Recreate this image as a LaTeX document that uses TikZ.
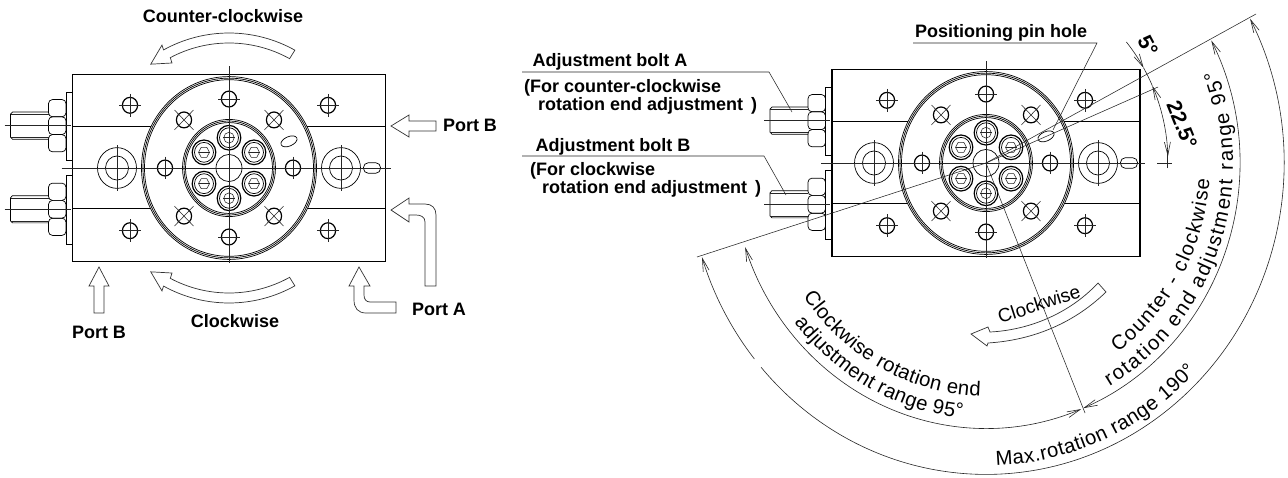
\documentclass[tikz,border=0pt]{standalone}
\usepackage{fontspec}
\setmainfont{Liberation Sans}
\usetikzlibrary{arrows.meta,decorations.text}
\tikzset{
  thin line/.style={line width=0.7pt,black},
  outl/.style={line width=1.2pt,black},
  hairl/.style={line width=0.55pt,black!85},
  blab/.style={font=\fontsize{18}{20}\selectfont\bfseries,inner sep=0pt,anchor=base},
  blabl/.style={blab,anchor=base west},
  dlab/.style={font=\fontsize{21}{22}\selectfont\bfseries,inner sep=0pt,anchor=center},
  rlab/.style={font=\fontsize{19}{20}\selectfont,inner sep=0pt},
  dimarc/.style={line width=0.6pt,black!85,>={Straight Barb[length=13pt,width=6pt]}},
  portarrow/.style={line width=0.7pt,black!80,fill=white},
  curved/.style={decorate,decoration={text along path,text align={fit to path},text={|\crfont|#1}}},
}
\newcommand\crfont{\fontsize{20.3}{22}\selectfont}
\newcommand\crosshole[2]{%
  \draw[line width=1.2pt] (#1,#2) circle[radius=7.6];
  \draw[hairl] (#1-11,#2) -- (#1+11,#2) (#1,#2-11) -- (#1,#2+11);}
\newcommand\xhole[2]{%
  \draw[line width=1.2pt] (#1,#2) circle[radius=7.6];
  \draw[hairl] (#1-9.5,#2-9.5) -- (#1+9.5,#2+9.5) (#1-9.5,#2+9.5) -- (#1+9.5,#2-9.5);}
\newcommand\capbolt[2]{%
  \draw[line width=1.2pt] (#1,#2) circle[radius=11.8];
  \draw[thin line] (#1,#2) circle[radius=9.5];
  \draw[hairl] (#1,#2) circle[radius=5.2];
  \draw[hairl] (#1-6,#2) -- (#1+6,#2) (#1,#2-6) -- (#1,#2+6);}
\newcommand\hexbolt[2]{%
  \draw[line width=1.2pt] (#1,#2) circle[radius=11.8];
  \draw[thin line] (#1,#2) circle[radius=9.5];
  \draw[hairl] (#1+5.5,#2) -- (#1+2.75,#2+4.8) -- (#1-2.75,#2+4.8) -- (#1-5.5,#2) -- (#1-2.75,#2-4.8) -- (#1+2.75,#2-4.8) -- cycle;
  \draw[hairl] (#1-5.5,#2) -- (#1+5.5,#2);}
\newcommand\adjbolt[2]{% y offset, half width
  \begin{scope}[shift={(-#2,#1)}]
    \draw[thin line,rounded corners=4pt] (-24,-25) rectangle (-6.5,-8.5);
    \draw[thin line,rounded corners=4pt] (-24,-8.5) rectangle (-6.5,8.5);
    \draw[thin line,rounded corners=4pt] (-24,8.5) rectangle (-6.5,25);
    \draw[thin line] (-24,-13) -- (-60,-13) -- (-62,-11) -- (-62,11) -- (-60,13) -- (-24,13);
    \draw[hairl] (-24,-11) -- (-62,-11) (-24,11) -- (-62,11);
    \draw[hairl] (-68,0) -- (-2,0);
  \end{scope}}
\newcommand\device[3]{%
  \begin{scope}[shift={(#1,#2)},yscale=1.045]
    \draw[outl] (-#3,-89.5) rectangle (#3,89.2);
    \draw[outl] (-#3,-39.5) -- (-78,-39.5) (78,-39.5) -- (#3,-39.5);
    \draw[outl] (-#3,39) -- (-78,39) (78,39) -- (#3,39);
    \draw[thin line] (-#3-6.5,-72.7) rectangle (-#3,-7.7);
    \draw[thin line] (-#3-6.5,6.7) rectangle (-#3,72.7);
    \adjbolt{-40.5}{#3}
    \adjbolt{39.5}{#3}
    \fill[white] (0,0) circle[radius=87.5];
    \foreach \r in {87.5,86,84.5}{\draw[thin line] (0,0) circle[radius=\r];}
    \foreach \r in {46.5,45,43.5}{\draw[thin line] (0,0) circle[radius=\r];}
    \draw[thin line] (0,0) circle[radius=13];
    \foreach \s in {-1,1}{
      \crosshole{\s*99}{-60}
      \crosshole{\s*99}{60}
      \xhole{\s*45}{-46}
      \xhole{\s*45}{46}
      \crosshole{\s*64}{0}
      \crosshole{0}{\s*66}
      \capbolt{0}{\s*29}
      \hexbolt{\s*25}{-15}
      \hexbolt{\s*25}{15}
      \draw[thin line] (\s*112,0) circle[radius=19.5];
      \draw[thin line] (\s*112,0) circle[radius=11.5];
      \draw[hairl] (\s*112,-22) -- (\s*112,22);
    }
    \draw[thin line,rounded corners=4.7pt,fill=white] (134.5,-5) rectangle (151.5,5);
    \draw[hairl] (-#3-11,0) -- (#3+5,0);
    \draw[hairl] (0,-97.5) -- (0,90.5);
    \draw[thin line,rotate around={22:(60,-25.5)}] (60,-25.5) ellipse[x radius=8.5,y radius=4.5];
  \end{scope}}
\begin{document}
\begin{tikzpicture}[x=1pt,y=-1pt]
\useasboundingbox[fill=white] (0,0) rectangle (1288,477);
%---------------- left view
\device{229}{168}{156.5}
\begin{scope}[shift={(229,168)},y=1pt]
  \draw[portarrow] (60.8:135) arc[start angle=60.8,end angle=119,radius=135] -- (118.6:140) -- (127:130) -- (118.5:119.5) -- (118:125) arc[start angle=118,end angle=61,radius=125] -- cycle;
  \draw[portarrow] (-60.8:135) arc[start angle=-60.8,end angle=-119,radius=135] -- (-118.6:140) -- (-127:130) -- (-118.5:119.5) -- (-118:125) arc[start angle=-118,end angle=-61,radius=125] -- cycle;
\end{scope}
\draw[portarrow] (391,126) -- (409,115) -- (409,121) -- (436,121) -- (436,131) -- (409,131) -- (409,137) -- cycle;
\draw[portarrow] (391,210) -- (409,198) -- (409,204) -- (425,204) .. controls (432,204) and (436,208) .. (436,215) -- (436,286) -- (425,286) -- (425,222) .. controls (425,217) and (421,215) .. (416,215) -- (409,215) -- (409,222) -- cycle;
\draw[portarrow] (359,267) -- (349,286) -- (354,286) -- (354,300) .. controls (354,308) and (358,313) .. (366,313) -- (396,313) -- (396,302) -- (370,302) .. controls (366,302) and (364,299) .. (364,295) -- (364,286) -- (370,286) -- cycle;
\draw[portarrow] (99,267) -- (89,286) -- (94,286) -- (94,313) -- (104,313) -- (104,286) -- (109,286) -- cycle;
\node[blab] (lccw) at (223,22) {Counter-clockwise};
\node[blab] (lcw) at (235,327) {Clockwise};
\node[blab] (lpb1) at (470,131) {Port B};
\node[blab] (lpa) at (439,315) {Port A};
\node[blab] (lpb2) at (99,338) {Port B};
%---------------- right view
\device{986}{163}{154}
\coordinate (rc) at (986,163);
\coordinate (l275) at (1256,14);
\coordinate (l225) at (1158,87);
\coordinate (lbl) at (697,257);
\coordinate (lbot) at (1085,413);
\draw[hairl] (l275) -- (rc) -- (lbl);
\draw[hairl] (l225) -- (rc) -- (lbot);
\coordinate (a1) at (522,72);\coordinate (a2) at (769,72);\coordinate (a3) at (792,112);
\coordinate (b1) at (522,156);\coordinate (b2) at (764,156);\coordinate (b3) at (786,195);
\coordinate (p1) at (913,43);\coordinate (p2) at (1097,43);\coordinate (p3) at (1053,130);
\draw[hairl] (a1) -- (a2) -- (a3);
\draw[hairl] (b1) -- (b2) -- (b3);
\draw[hairl] (p1) -- (p2) -- (p3);
\node[blab] (ta) at (610,66) {Adjustment bolt A};
\node[blabl] (ta1) at (524,92) {(For counter-clockwise};
\node[blabl] (ta2) at (538,110) {rotation end adjustment \,)};
\node[blab] (tb) at (613,151) {Adjustment bolt B};
\node[blabl] (tb1) at (530,175) {(For clockwise};
\node[blabl] (tb2) at (542,193) {rotation end adjustment \,)};
\node[blab] (tp) at (1001,37) {Positioning pin hole};
\node[dlab,rotate=-62] (t5) at (1148,46) {5°};
\node[dlab,rotate=-68] (t225) at (1182,125) {22.5°};
\coordinate (ch1) at (1157,163);\coordinate (ch2) at (1172,163);\coordinate (ch3) at (1167,168);\coordinate (ch4) at (1167,150);
\draw[hairl] (ch1) -- (ch2) (ch3) -- (ch4);
\begin{scope}[shift={(986,163)},y=1pt]
  \draw[dimarc,->] (39.5:182 and 190.2) arc[start angle=39.5,end angle=30,x radius=182,y radius=190.2];
  \draw[dimarc] (30:182 and 190.2) arc[start angle=30,end angle=24,x radius=182,y radius=190.2];
  \draw[dimarc,<->] (24:182 and 190.2) arc[start angle=24,end angle=2,x radius=182,y radius=190.2];
  \draw[dimarc,<->] (27.5:254 and 265.4) arc[start angle=27.5,end angle=-67.5,x radius=254,y radius=265.4];
  \draw[dimarc,<->] (-68:254 and 265.4) arc[start angle=-68,end angle=-161.5,x radius=254,y radius=265.4];
  \draw[dimarc,->] (-141:298 and 311.4) arc[start angle=-141,end angle=-162.4,x radius=298,y radius=311.4];
  \draw[dimarc,->] (-139:298 and 311.4) arc[start angle=-139,end angle=27.6,x radius=298,y radius=311.4];
  \path[curved={Clockwise rotation end}]
    (215:223 and 233) arc[start angle=215,end angle=268.5,x radius=223,y radius=233];
  \path[curved={adjustment range 95°}]
    (218.5:245 and 256) arc[start angle=218.5,end angle=264.5,x radius=245,y radius=256];
  \path[curved={Max.rotation range 190°}]
    (272:290 and 303) arc[start angle=272,end angle=316.5,x radius=290,y radius=303];
  \path[curved={Counter - clockwise}]
    (-54:224 and 234) arc[start angle=-54,end angle=-4,x radius=224,y radius=234];
  \path[curved={rotation end adjustment range 95°}]
    (-60:247 and 258) arc[start angle=-60,end angle=21,x radius=247,y radius=258];
\end{scope}
\draw[portarrow,fill=none] (971,334) -- (988,327) -- (990,332) .. controls (1030,330) and (1070,313) .. (1098,283) -- (1106,292) .. controls (1075,322) and (1035,340) .. (988,343) -- (987,346) -- cycle;
\node[rlab,rotate=18] (tcw) at (1039,304) {Clockwise};
\end{tikzpicture}
\end{document}
